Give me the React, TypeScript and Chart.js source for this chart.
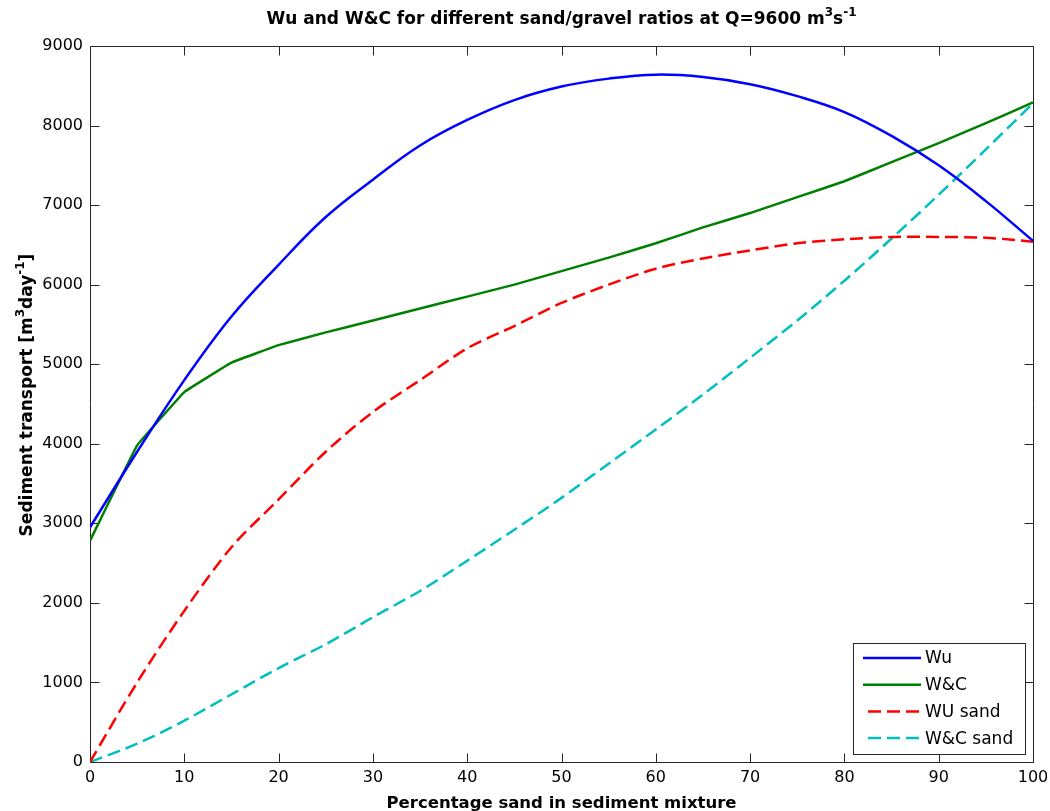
import React, { useEffect, useRef } from "react";
import { Chart, registerables } from "chart.js";

Chart.register(...registerables);

// Percentage sand in sediment mixture
const sandPercent = [0, 5, 10, 15, 20, 25, 30, 35, 40, 45, 50, 55, 60, 65, 70, 75, 80, 85, 90, 95, 100];
// Sediment transport [m3/day]
const wuTotal = [2950, 3900, 4800, 5600, 6250, 6850, 7320, 7750, 8070, 8320, 8490, 8590, 8640, 8610, 8520, 8370, 8170, 7870, 7500, 7050, 6550];
const wcTotal = [2780, 3980, 4650, 5020, 5240, 5400, 5550, 5700, 5850, 6000, 6170, 6340, 6520, 6720, 6900, 7100, 7300, 7540, 7780, 8030, 8290];
const wuSand = [0, 1000, 1900, 2700, 3300, 3900, 4400, 4800, 5200, 5480, 5770, 6000, 6200, 6330, 6430, 6520, 6570, 6600, 6600, 6590, 6540];
const wcSand = [0, 230, 520, 850, 1180, 1480, 1820, 2150, 2530, 2920, 3320, 3750, 4180, 4620, 5080, 5550, 6050, 6580, 7130, 7700, 8280];

const seriesLabels = ["Wu", "W&C", "WU sand", "W&C sand"];
const seriesColors = ["#0000ff", "#008000", "#ff0000", "#00bfbf"];
const seriesTension = [0.4, 0.05, 0.3, 0.3];

const FONT = '"DejaVu Sans", sans-serif';
const AXIS_COLOR = "#262626";

type Seg = { t: string; sup?: boolean };

function segWidth(ctx: CanvasRenderingContext2D, segs: Seg[], size: number, bold: boolean) {
  let w = 0;
  for (const s of segs) {
    ctx.font = `${bold ? "bold " : ""}${s.sup ? Math.round(size * 0.7) : size}px ${FONT}`;
    w += ctx.measureText(s.t).width;
  }
  return w;
}

function drawSegs(ctx: CanvasRenderingContext2D, segs: Seg[], x: number, y: number, size: number, bold: boolean) {
  let cx = x;
  ctx.textBaseline = "alphabetic";
  ctx.textAlign = "left";
  for (const s of segs) {
    const sz = s.sup ? Math.round(size * 0.7) : size;
    ctx.font = `${bold ? "bold " : ""}${sz}px ${FONT}`;
    ctx.fillText(s.t, cx, s.sup ? y - size * 0.45 : y);
    cx += ctx.measureText(s.t).width;
  }
}

const titleSegs: Seg[] = [
  { t: "Wu and W&C for different sand/gravel ratios at Q=9600 m" },
  { t: "3", sup: true },
  { t: "s" },
  { t: "-1", sup: true },
];
const xTitleSegs: Seg[] = [{ t: "Percentage sand in sediment mixture" }];
const yTitleSegs: Seg[] = [
  { t: "Sediment transport [m" },
  { t: "3", sup: true },
  { t: "day" },
  { t: "-1", sup: true },
  { t: "]" },
];

const framePlugin = {
  id: "matlabFrame",
  beforeDatasetsDraw(chart: any) {
    const { ctx, chartArea: a, scales } = chart;
    const x = scales.x;
    const y = scales.y;
    ctx.save();
    ctx.strokeStyle = AXIS_COLOR;
    ctx.lineWidth = 1;
    const L = Math.round(a.left) + 0.5;
    const R = Math.round(a.right) + 0.5;
    const T = Math.round(a.top) + 0.5;
    const B = Math.round(a.bottom) + 0.5;
    ctx.beginPath();
    ctx.rect(L, T, R - L, B - T);
    const tl = 9;
    x.ticks.forEach((t: any) => {
      const px = Math.round(x.getPixelForValue(t.value)) + 0.5;
      ctx.moveTo(px, B);
      ctx.lineTo(px, B - tl);
      ctx.moveTo(px, T);
      ctx.lineTo(px, T + tl);
    });
    y.ticks.forEach((t: any) => {
      const py = Math.round(y.getPixelForValue(t.value)) + 0.5;
      ctx.moveTo(L, py);
      ctx.lineTo(L + tl, py);
      ctx.moveTo(R, py);
      ctx.lineTo(R - tl, py);
    });
    ctx.stroke();
    ctx.restore();
  },
  afterDraw(chart: any) {
    const { ctx, chartArea: a } = chart;
    ctx.save();
    ctx.fillStyle = "#000";
    const cx = (a.left + a.right) / 2;
    // title
    const tw = segWidth(ctx, titleSegs, 17, true);
    drawSegs(ctx, titleSegs, cx - tw / 2, 24, 17, true);
    // x title
    const xw = segWidth(ctx, xTitleSegs, 16.5, true);
    drawSegs(ctx, xTitleSegs, cx - xw / 2, 808, 16.5, true);
    // y title
    const cy = 395;
    const yw = segWidth(ctx, yTitleSegs, 17, true);
    ctx.save();
    ctx.translate(32, cy);
    ctx.rotate(-Math.PI / 2);
    drawSegs(ctx, yTitleSegs, -yw / 2, 0, 17, true);
    ctx.restore();

    // legend
    const bx = 853.5, by = 643.5, bw = 172, bh = 111;
    ctx.fillStyle = "#fff";
    ctx.fillRect(bx, by, bw, bh);
    ctx.strokeStyle = AXIS_COLOR;
    ctx.lineWidth = 1;
    ctx.strokeRect(bx, by, bw, bh);
    chart.data.datasets.forEach((ds: any, i: number) => {
      const ly = 658 + i * 26.7;
      ctx.save();
      ctx.strokeStyle = ds.borderColor;
      ctx.lineWidth = ds.borderWidth;
      ctx.setLineDash(ds.borderDash || []);
      ctx.beginPath();
      if (ds.borderDash && ds.borderDash.length) {
        ctx.moveTo(868, ly);
      } else {
        ctx.moveTo(863, ly);
      }
      ctx.lineTo(921, ly);
      ctx.stroke();
      ctx.restore();
      ctx.fillStyle = "#000";
      ctx.font = `17px ${FONT}`;
      ctx.textBaseline = "middle";
      ctx.textAlign = "left";
      ctx.fillText(ds.label, 925, ly + 1);
    });
    ctx.restore();
  },
};

export default function App() {
  const ref = useRef<HTMLCanvasElement | null>(null);
  useEffect(() => {
    if (!ref.current) return;
    const mk = (vals: number[]) => sandPercent.map((x, i) => ({ x, y: vals[i] }));
    const all = [wuTotal, wcTotal, wuSand, wcSand];
    const chart = new Chart(ref.current, {
      type: "line",
      data: {
        datasets: all.map((vals, i) => ({
          label: seriesLabels[i],
          data: mk(vals),
          borderColor: seriesColors[i],
          backgroundColor: seriesColors[i],
          borderWidth: 2.5,
          borderDash: i >= 2 ? [13, 6] : [],
          pointRadius: 0,
          tension: seriesTension[i],
          fill: false,
        })),
      },
      options: {
        animation: false,
        responsive: false,
        maintainAspectRatio: false,
        layout: { padding: { left: 0, top: 46, right: 17, bottom: 0 } },
        plugins: {
          legend: { display: false },
          title: { display: false },
          tooltip: { enabled: false },
        },
        scales: {
          x: {
            type: "linear",
            min: 0,
            max: 100,
            grid: { display: false, drawTicks: false },
            border: { display: false },
            ticks: {
              stepSize: 10,
              padding: 6,
              color: "#000",
              font: { family: FONT, size: 16 },
              maxRotation: 0,
              callback: (v: any) => String(v),
            },
            afterFit: (s: any) => {
              s.height = 49;
              s.paddingRight = 0;
              s.paddingLeft = 0;
            },
          },
          y: {
            type: "linear",
            min: 0,
            max: 9000,
            grid: { display: false, drawTicks: false },
            border: { display: false },
            ticks: {
              stepSize: 1000,
              padding: 7,
              color: "#000",
              font: { family: FONT, size: 16 },
              callback: (v: any) => String(v),
            },
            afterFit: (s: any) => {
              s.width = 90;
              s.paddingTop = 0;
              s.paddingBottom = 0;
            },
          },
        },
      },
      plugins: [framePlugin],
    });
    return () => chart.destroy();
  }, []);
  return (
    <div style={{ position: "absolute", left: 0, top: 0, width: 1050, height: 811, background: "#fff" }}>
      <canvas ref={ref} width={1050} height={811} style={{ display: "block" }} />
    </div>
  );
}
